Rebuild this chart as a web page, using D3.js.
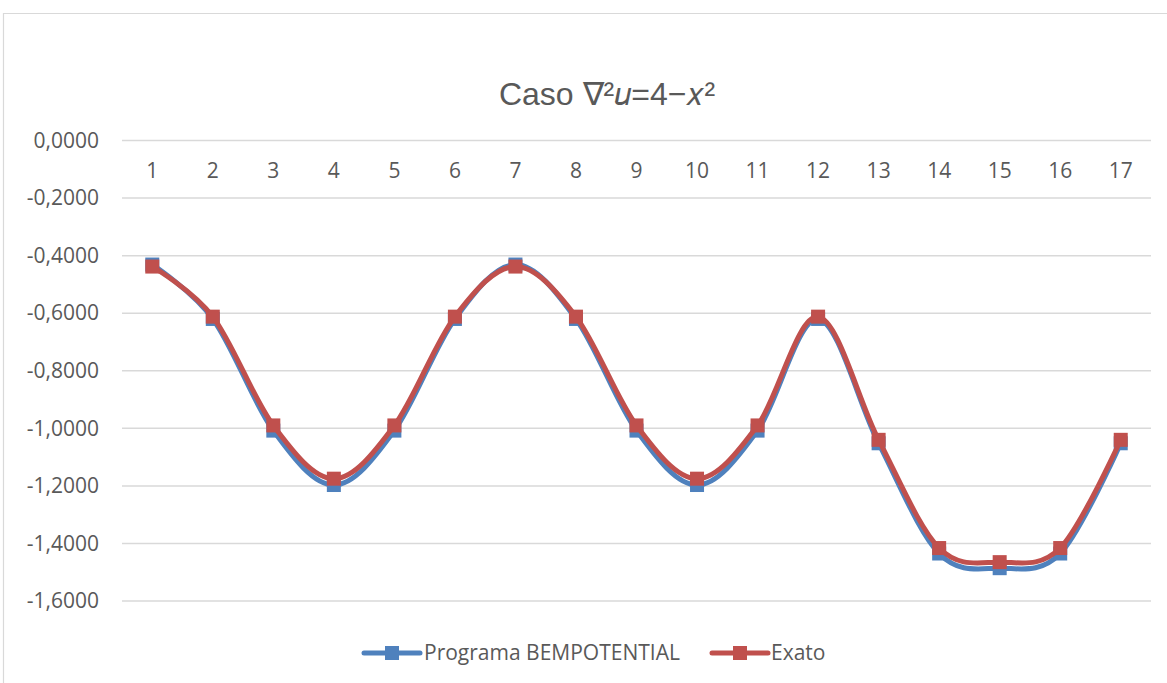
<!DOCTYPE html>
<html><head><meta charset="utf-8">
<script src="https://cdn.jsdelivr.net/npm/d3@7"></script>
<style>body{margin:0;background:#fff}svg{display:block}</style>
</head><body>
<svg id="c" width="1167" height="683"></svg>
<script>
const categories = ["1","2","3","4","5","6","7","8","9","10","11","12","13","14","15","16","17"];
const bemValues = [-0.431,-0.620,-1.008,-1.197,-1.008,-0.620,-0.431,-0.620,-1.008,-1.197,-1.008,-0.620,-1.052,-1.435,-1.486,-1.435,-1.052];
const exatoValues = [-0.438,-0.612,-0.990,-1.175,-0.990,-0.612,-0.438,-0.612,-0.990,-1.175,-0.990,-0.612,-1.040,-1.416,-1.465,-1.416,-1.040];
const yTicks = [0,-0.2,-0.4,-0.6,-0.8,-1.0,-1.2,-1.4,-1.6];
const seriesNames = ["Programa BEMPOTENTIAL","Exato"];
const colors = ["#4F81BD","#C0504D"];

const svg = d3.select("#c");
const font = "'Open Sans', sans-serif";
// chart border
svg.append("path").attr("d","M3.5,683 V13.5 H1167").attr("fill","none").attr("stroke","#d9d9d9").attr("stroke-width",1.2);

const x = d3.scaleBand().domain(categories).range([122,1151]);
const y = d3.scaleLinear().domain([-1.6,0]).range([601,140.5]);

// gridlines
svg.append("g").selectAll("line").data(yTicks).join("line")
  .attr("x1",122).attr("x2",1151).attr("y1",d=>y(d)).attr("y2",d=>y(d))
  .attr("stroke","#d9d9d9").attr("stroke-width",1.5);

// y labels
const fmt = d => (d<0?"-":"") + Math.abs(d).toFixed(4).replace(".",",");
const yAxis = d3.axisLeft(y).tickValues(yTicks).tickFormat(fmt).tickSize(0).tickPadding(0);
const ga = svg.append("g").attr("transform","translate(99,0)").call(yAxis);
ga.select(".domain").remove();
ga.selectAll("text").attr("font-family",font).attr("font-size",21).attr("fill","#595959");

// x labels (axis at top, value 0)
const xAxis = d3.axisBottom(x).tickSize(0).tickPadding(0);
const gx = svg.append("g").attr("transform",`translate(0,${y(0)+23})`).call(xAxis);
gx.select(".domain").remove();
gx.selectAll("text").attr("font-family",font).attr("font-size",21).attr("fill","#595959");

// title
svg.append("text").attr("x",607).attr("y",105).attr("text-anchor","middle")
  .attr("font-family","'Liberation Sans', Arial, sans-serif").attr("font-size",32).attr("fill","#595959")
  .text("Caso ∇²𝑢=4−𝑥²");

const line = d3.line().x((d,i)=>x(categories[i])+x.bandwidth()/2).y(d=>y(d)).curve(d3.curveCatmullRom.alpha(0));
[bemValues, exatoValues].forEach((vals,k)=>{
  const g = svg.append("g");
  g.append("path").attr("d",line(vals)).attr("fill","none").attr("stroke",colors[k]).attr("stroke-width",5).attr("stroke-linejoin","round");
  g.selectAll("rect").data(vals).join("rect")
    .attr("x",(d,i)=>x(categories[i])+x.bandwidth()/2-7).attr("y",d=>y(d)-7)
    .attr("width",14).attr("height",14).attr("fill",colors[k]);
});

// legend
const leg = [{x0:364,x1:420,tx:424},{x0:712,x1:768,tx:771}];
leg.forEach((l,k)=>{
  const ly = 653;
  svg.append("line").attr("x1",l.x0).attr("x2",l.x1).attr("y1",ly).attr("y2",ly).attr("stroke",colors[k]).attr("stroke-width",5).attr("stroke-linecap","round");
  svg.append("rect").attr("x",(l.x0+l.x1)/2-7).attr("y",ly-7).attr("width",14).attr("height",14).attr("fill",colors[k]);
  svg.append("text").attr("x",l.tx).attr("y",ly).attr("dy","0.35em").attr("font-family",font).attr("font-size",21).attr("fill","#595959").text(seriesNames[k]);
});
</script>
</body></html>
